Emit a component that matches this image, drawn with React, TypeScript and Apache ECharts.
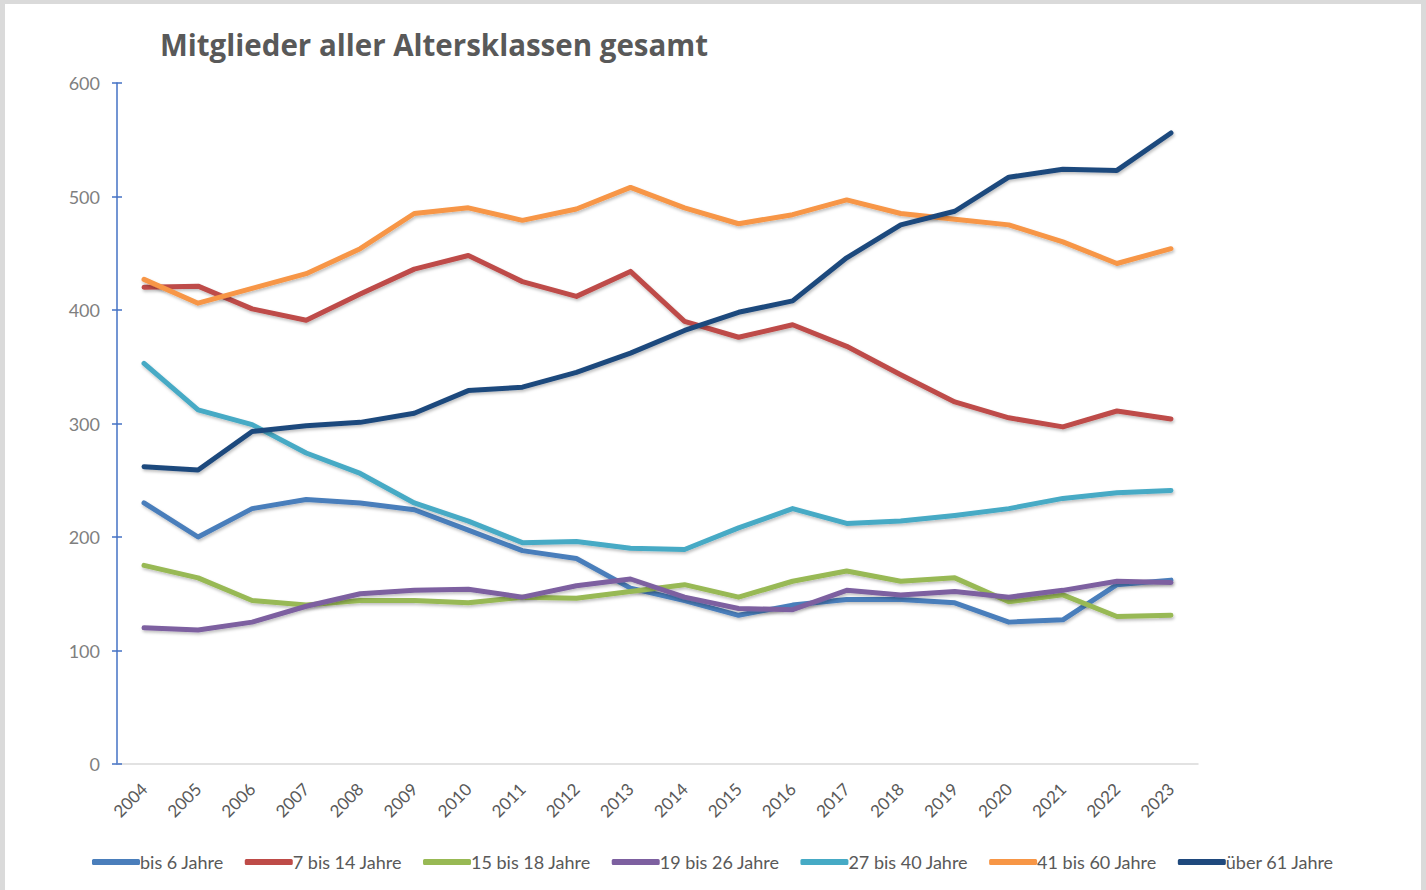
import React, { useEffect, useRef } from "react";
import * as echarts from "echarts";

const years = ["2004","2005","2006","2007","2008","2009","2010","2011","2012","2013","2014","2015","2016","2017","2018","2019","2020","2021","2022","2023"];
const bis6 = [230, 200, 225, 233, 230, 224, 206, 188, 181, 155, 144, 131, 140, 145, 145, 142, 125, 127, 158, 162];
const bis14 = [420, 421, 401, 391, 414, 436, 448, 425, 412, 434, 390, 376, 387, 368, 343, 319, 305, 297, 311, 304];
const bis18 = [175, 164, 144, 140, 144, 144, 142, 147, 146, 152, 158, 147, 161, 170, 161, 164, 143, 149, 130, 131];
const bis26 = [120, 118, 125, 139, 150, 153, 154, 147, 157, 163, 147, 137, 136, 153, 149, 152, 147, 153, 161, 160];
const bis40 = [353, 312, 299, 274, 256, 230, 214, 195, 196, 190, 189, 208, 225, 212, 214, 219, 225, 234, 239, 241];
const bis60 = [427, 406, 419, 432, 454, 485, 490, 479, 489, 508, 490, 476, 484, 497, 485, 480, 475, 460, 441, 454];
const ueber61 = [262, 259, 293, 298, 301, 309, 329, 332, 345, 362, 382, 398, 408, 446, 475, 487, 517, 524, 523, 556];

const seriesNames = ["bis 6 Jahre", "7 bis 14 Jahre", "15 bis 18 Jahre", "19 bis 26 Jahre", "27 bis 40 Jahre", "41 bis 60 Jahre", "über 61 Jahre"];
const seriesData = [bis6, bis14, bis18, bis26, bis40, bis60, ueber61];
const colors = ["#4A7EBB", "#BE4B48", "#98B954", "#7D60A0", "#46AAC5", "#F79646", "#1F497D"];
const yTicks = [0, 100, 200, 300, 400, 500, 600];

const FONT = "Lato, 'Open Sans', sans-serif";

export default function App() {
  const ref = useRef<HTMLDivElement>(null);
  useEffect(() => {
    if (!ref.current) return;
    const chart = echarts.init(ref.current, null, { renderer: "svg" });
    chart.setOption({
      animation: false,
      backgroundColor: "#ffffff",
      color: colors,
      title: {
        text: "Mitglieder aller Altersklassen gesamt",
        left: 150,
        top: 20,
        textStyle: { fontFamily: "'Open Sans', Lato, sans-serif", fontSize: 29.5, fontWeight: "bold", color: "#595959" },
      },
      legend: {
        bottom: 14,
        left: "center",
        icon: "roundRect",
        itemWidth: 48,
        itemHeight: 6,
        itemGap: 21,
        data: seriesNames,
        textStyle: { fontFamily: FONT, fontSize: 18, color: "#595959", padding: [0, 0, 0, -5] },
      },
      grid: { left: 112, right: 223, top: 79, bottom: 126, containLabel: false },
      xAxis: {
        type: "category",
        data: years,
        boundaryGap: true,
        axisLine: { lineStyle: { color: "#D9D9D9", width: 1.5 } },
        axisTick: { show: false },
        axisLabel: { rotate: 45, interval: 0, margin: 22, fontFamily: FONT, fontSize: 17, color: "#595959" },
        splitLine: { show: false },
      },
      yAxis: [
        {
          type: "value",
          min: 0,
          max: yTicks[yTicks.length - 1],
          interval: 100,
          axisLine: { show: true, lineStyle: { color: "#4472C4", width: 1.5 } },
          axisTick: { show: true, length: 5, lineStyle: { color: "#4472C4", width: 1.5 } },
          axisLabel: { margin: 17, fontFamily: FONT, fontSize: 18, color: "#7F7F7F" },
          splitLine: { show: false },
        },
        {
          type: "value",
          position: "left",
          min: 0,
          max: yTicks[yTicks.length - 1],
          interval: 100,
          axisLine: { show: false },
          axisTick: { show: true, inside: true, length: 5, lineStyle: { color: "#4472C4", width: 1.5 } },
          axisLabel: { show: false },
          splitLine: { show: false },
        },
      ],
      series: seriesData.map((d, i) => ({
        name: seriesNames[i],
        type: "line",
        data: d,
        symbol: "none",
        lineStyle: {
          width: 5,
          cap: "round",
          join: "round",
          shadowColor: "rgba(0,0,0,0.25)",
          shadowBlur: 3,
          shadowOffsetX: 1,
          shadowOffsetY: 2,
        },
        emphasis: { disabled: true },
      })),
    });
    return () => chart.dispose();
  }, []);
  return (
    <div style={{ position: "fixed", left: 0, top: 0, width: 1426, height: 890, background: "#DADADA" }}>
      <div ref={ref} style={{ position: "absolute", left: 5, top: 4, width: 1416, height: 886 }} />
    </div>
  );
}
